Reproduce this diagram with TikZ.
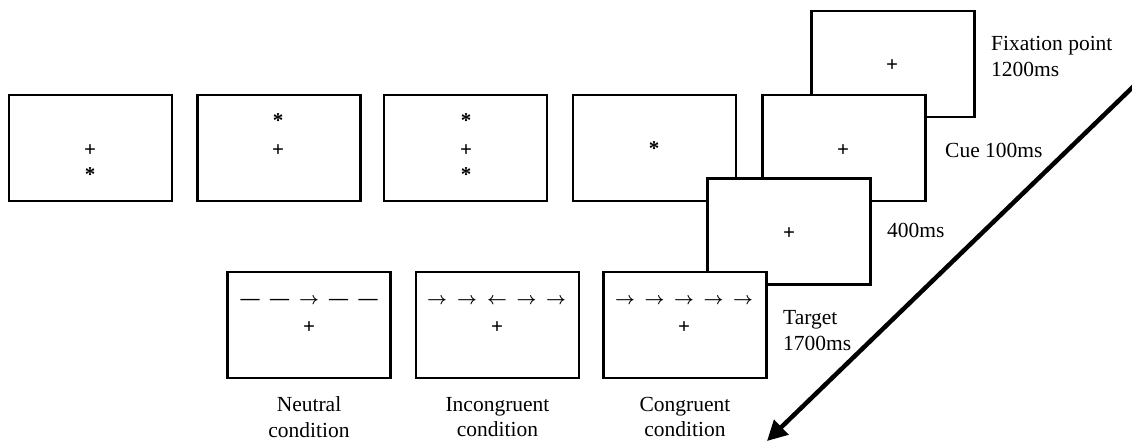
\documentclass[tikz,border=0pt]{standalone}
\usepackage{fontspec}
\setmainfont{Liberation Serif}
\usetikzlibrary{arrows.meta}
\begin{document}
\begin{tikzpicture}[x=1pt,y=-1pt,
    screen/.style={draw, line width=2.8pt, fill=white, minimum width=163pt, minimum height=106pt, inner sep=0pt},
    crossmark/.style={inner sep=0pt, anchor=base, font=\fontsize{21}{21}\selectfont\bfseries},
    starmark/.style={inner sep=0pt, anchor=base, font=\fontsize{21}{21}\selectfont\bfseries},
    flank/.style={inner sep=0pt, anchor=base, font=\fontsize{19}{19}\selectfont\bfseries\boldmath},
    caption/.style={align=left, anchor=west, inner sep=0pt, font=\fontsize{21.5}{26}\selectfont},
    condition/.style={align=center, inner sep=0pt, font=\fontsize{21.5}{25.5}\selectfont}]

    \useasboundingbox (0,0) rectangle (1132,441);

    % screens, from back to front
    \node[screen] (fixbox) at (893,64)  {};
    \node[screen] (cuebox) at (844,148) {};
    \node[screen] (cueA)   at (90.5,148)  {};
    \node[screen] (cueB)   at (279,148) {};
    \node[screen] (cueC)   at (465.5,148) {};
    \node[screen] (cueD)   at (654.5,148) {};
    \node[screen] (gapbox) at (789,231.5) {};
    \node[screen] (neutral) at (309,325) {};
    \node[screen] (incong)  at (497.5,325) {};
    \node[screen] (cong)    at (685,325) {};

    % fixation crosses
    \node[crossmark] (fixA) at (892,71.3)  {+};
    \node[crossmark] (fixB) at (843,156.3) {+};
    \node[crossmark] (fixC) at (90,156.3)  {+};
    \node[crossmark] (fixD) at (278,156.3) {+};
    \node[crossmark] (fixE) at (466,156.3) {+};
    \node[crossmark] (fixF) at (789,239.3) {+};
    \node[crossmark] (fixG) at (309,333.3) {+};
    \node[crossmark] (fixH) at (497,333.3) {+};
    \node[crossmark] (fixI) at (684,333.3) {+};

    % cue stars
    \node[starmark] (starA) at (90,181)  {*};
    \node[starmark] (starB) at (278,128) {*};
    \node[starmark] (starC) at (466,128) {*};
    \node[starmark] (starD) at (466,181) {*};
    \node[starmark] (starE) at (654,155) {*};

    % flanker rows
    \foreach \dx/\s [count=\i] in {-59/—, -29.5/—, 0/$\rightarrow$, 29.5/—, 59/—}
        \node[flank] (nf\i) at (309+\dx,304.5) {\s};
    \foreach \dx/\s [count=\i] in {-60/$\rightarrow$, -30/$\rightarrow$, 0/$\leftarrow$, 29.5/$\rightarrow$, 59/$\rightarrow$}
        \node[flank] (if\i) at (497+\dx,304.5) {\s};
    \foreach \dx [count=\i] in {-59,-29.5,0,29.5,59}
        \node[flank] (cf\i) at (684+\dx,304.5) {$\rightarrow$};

    % labels
    \node[caption] (fixtext)  at (991,56)  {Fixation point\\1200ms};
    \node[caption] (cuetext)  at (945,150) {Cue 100ms};
    \node[caption] (gaptext)  at (887,230) {400ms};
    \node[caption] (targtext) at (783,331) {Target\\1700ms};

    \node[condition] (neutext) at (309,417)   {Neutral\\condition};
    \node[condition] (inctext) at (497.5,417) {Incongruent\\condition};
    \node[condition] (context) at (685,417)   {Congruent\\condition};

    % time arrow
    \coordinate (timeA) at (1137,83);
    \coordinate (timeB) at (767,441);
    \draw[line width=4.5pt, -{Triangle[length=20pt,width=20pt]}] (timeA) -- (timeB);
\end{tikzpicture}
\end{document}
